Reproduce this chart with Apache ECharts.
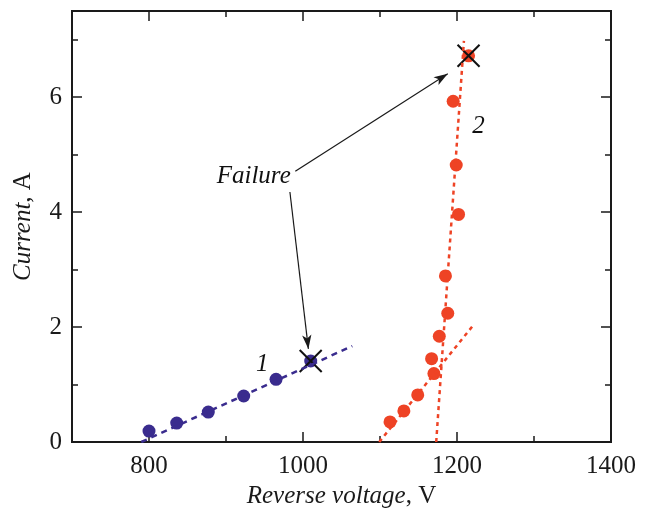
<!DOCTYPE html>
<html>
<head>
<meta charset="utf-8">
<script src="https://cdn.jsdelivr.net/npm/echarts@6/dist/echarts.min.js"></script>
<style>
  html, body { margin: 0; padding: 0; background: #fff; }
  #chart { width: 650px; height: 511px; }
</style>
</head>
<body>
<div id="chart"></div>
<script>
// curve 1 (blue) measured points
var blueVoltage = [800, 836, 877, 923, 965, 1010]
var blueCurrent = [0.19, 0.33, 0.52, 0.80, 1.09, 1.41]
// curve 2 (red) measured points
var redVoltage = [1113, 1131, 1149, 1170, 1167, 1177, 1188, 1185, 1202, 1199, 1195, 1215]
var redCurrent = [0.35, 0.54, 0.82, 1.19, 1.45, 1.84, 2.24, 2.89, 3.96, 4.82, 5.93, 6.72]
// dashed fit lines (end points)
var blueFitV = [790, 1064]
var blueFitI = [0.0, 1.67]
var redFitLowV = [1099, 1221]
var redFitLowI = [0.0, 2.03]
var redFitHighV = [1173, 1209]
var redFitHighI = [0.0, 6.98]
// failure points (crosses)
var failureV = [1010, 1215]
var failureI = [1.41, 6.72]
// annotation arrows: start [V, I] -> end [V, I]
var arrowFrom = [[983, 4.35], [990, 4.71]]
var arrowTo = [[1007, 1.62], [1188, 6.41]]
// text annotations
var noteText = ['Failure', '1', '2']
var noteV = [936, 947, 1228]
var noteI = [4.63, 1.35, 5.49]
// axis ticks
var xMajor = [800, 1000, 1200, 1400]
var xMinor = [900, 1100, 1300]
var yMajor = [0, 2, 4, 6]
var yMinor = [1, 3, 5, 7]

var BLUE = '#3a2c8e'
var RED = '#ee4325'
var INK = '#1a1a1a'
var FONT = 'Liberation Serif'

function zip(a, b) {
  return a.map(function (v, i) { return [v, b[i]] })
}

function plain(v) {
  return String(v)
}

function xAxisOf(pos, ticks, len, labels) {
  return {
    type: 'value', position: pos, min: 700, max: 1400, gridIndex: 0,
    axisLine: { show: true, onZero: false, lineStyle: { color: INK, width: 2 } },
    axisTick: { show: true, inside: true, length: len, customValues: ticks, lineStyle: { color: INK, width: 1.5 } },
    axisLabel: labels ? { show: true, customValues: xMajor, formatter: plain, margin: 12, color: INK, fontFamily: FONT, fontSize: 25 } : { show: false },
    splitLine: { show: false }
  }
}

function yAxisOf(pos, ticks, len, labels) {
  return {
    type: 'value', position: pos, min: 0, max: 7.5, gridIndex: 0,
    axisLine: { show: true, onZero: false, lineStyle: { color: INK, width: 2 } },
    axisTick: { show: true, inside: true, length: len, customValues: ticks, lineStyle: { color: INK, width: 1.5 } },
    axisLabel: labels ? { show: true, customValues: yMajor, formatter: plain, margin: 10, color: INK, fontFamily: FONT, fontSize: 25 } : { show: false },
    splitLine: { show: false }
  }
}

var chart = echarts.init(document.getElementById('chart'), null, { renderer: 'canvas' })

var xMain = xAxisOf('bottom', xMajor, 10, true)
xMain.name = '{i|Reverse voltage}{n|, V}'
xMain.nameLocation = 'middle'
xMain.nameGap = 40
xMain.nameTextStyle = {
  rich: {
    i: { fontFamily: FONT, fontSize: 25, fontStyle: 'italic', color: INK },
    n: { fontFamily: FONT, fontSize: 25, color: INK }
  }
}

var yMain = yAxisOf('left', yMajor, 10, true)
yMain.name = '{i|Current}{n|, A}'
yMain.nameLocation = 'middle'
yMain.nameGap = 36
yMain.nameRotate = 90
yMain.nameTextStyle = {
  rich: {
    i: { fontFamily: FONT, fontSize: 25, fontStyle: 'italic', color: INK },
    n: { fontFamily: FONT, fontSize: 25, color: INK }
  }
}

var option = {
  animation: false,
  backgroundColor: '#fff',
  grid: { left: 72, right: 39, top: 11, bottom: 69, containLabel: false, outerBoundsMode: 'none' },
  xAxis: [
    xMain,
    xAxisOf('bottom', xMinor, 6, false),
    xAxisOf('top', xMajor, 10, false),
    xAxisOf('top', xMinor, 6, false)
  ],
  yAxis: [
    yMain,
    yAxisOf('left', yMinor, 6, false),
    yAxisOf('right', yMajor, 10, false),
    yAxisOf('right', yMinor, 6, false)
  ],
  series: [
    {
      name: 'fit 1', type: 'line', symbol: 'none',
      data: zip(blueFitV, blueFitI),
      lineStyle: { color: BLUE, width: 2.5, type: [6, 5] }
    },
    {
      name: 'fit 2a', type: 'line', symbol: 'none',
      data: zip(redFitLowV, redFitLowI),
      lineStyle: { color: RED, width: 2.5, type: [4, 4] }
    },
    {
      name: 'fit 2b', type: 'line', symbol: 'none',
      data: zip(redFitHighV, redFitHighI),
      lineStyle: { color: RED, width: 2.5, type: [4, 4] }
    },
    {
      name: '1', type: 'scatter', symbol: 'circle', symbolSize: 13,
      data: zip(blueVoltage, blueCurrent),
      itemStyle: { color: BLUE, opacity: 1 }
    },
    {
      name: '2', type: 'scatter', symbol: 'circle', symbolSize: 13,
      data: zip(redVoltage, redCurrent),
      itemStyle: { color: RED, opacity: 1 }
    },
    {
      name: 'failure', type: 'scatter',
      symbol: 'path://M0,0L10,10M10,0L0,10', symbolSize: 22,
      data: zip(failureV, failureI),
      itemStyle: { color: 'rgba(0,0,0,0)', borderColor: '#111', borderWidth: 2, opacity: 1 }
    },
    {
      name: 'notes', type: 'scatter', symbolSize: 0,
      itemStyle: { opacity: 1 },
      data: noteV.map(function (v, i) { return { name: noteText[i], value: [v, noteI[i]] } }),
      label: {
        show: true, position: 'inside', formatter: '{b}',
        fontFamily: FONT, fontStyle: 'italic', fontSize: 25, color: '#111'
      },
      markLine: {
        silent: true,
        symbol: ['none', 'arrow'],
        symbolSize: [7, 14],
        label: { show: false },
        lineStyle: { color: INK, width: 1.2, type: 'solid', opacity: 1 },
        data: arrowFrom.map(function (p, i) {
          return [{ coord: p }, { coord: arrowTo[i] }]
        })
      }
    }
  ]
}

chart.setOption(option)
</script>
</body>
</html>
